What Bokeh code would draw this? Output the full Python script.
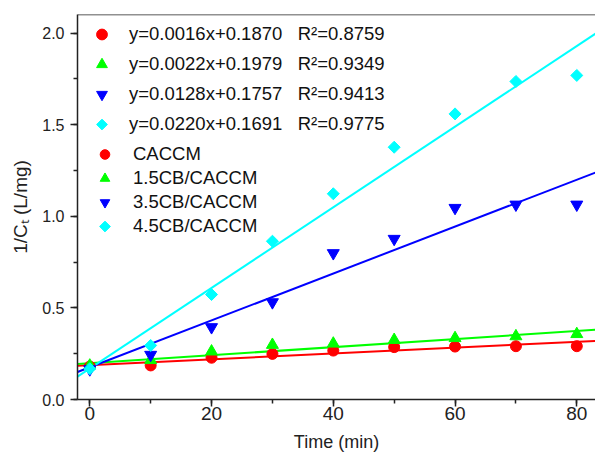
import numpy as np
from bokeh.plotting import figure
from bokeh.models import (Range1d, Legend, LegendItem, Span, SingleIntervalTicker,
                          PrintfTickFormatter)
from bokeh.embed import file_html
from bokeh.resources import INLINE

# ---- data ----
time_min = [0, 10, 20, 30, 40, 50, 60, 70, 80]
series_names = ["CACCM", "1.5CB/CACCM", "3.5CB/CACCM", "4.5CB/CACCM"]
caccm = [0.180, 0.186, 0.228, 0.249, 0.267, 0.286, 0.289, 0.291, 0.291]
cb15 = [0.185, 0.215, 0.262, 0.298, 0.305, 0.325, 0.335, 0.345, 0.357]
cb35 = [0.165, 0.244, 0.395, 0.531, 0.799, 0.877, 1.046, 1.064, 1.064]
cb45 = [0.168, 0.295, 0.573, 0.864, 1.123, 1.377, 1.559, 1.736, 1.769]
slopes = [0.0016, 0.0022, 0.0128, 0.0220]
intercepts = [0.1870, 0.1979, 0.1757, 0.1691]
r_squared = [0.8759, 0.9349, 0.9413, 0.9775]
x_tick_interval = 20
y_tick_interval = 0.5

series_values = [caccm, cb15, cb35, cb45]
colors = ["#FF0000", "#00FF00", "#0000FF", "#00FFFF"]
markers = ["circle", "triangle", "inverted_triangle", "square"]
sizes = [11, 12, 12, 8.5]
angles = [0, 0, 0, np.pi / 4]

# ---- layout (pixels) ----
W, H = 595, 457
BL, BT, BB, BR = 77, 14, 58, 0
FW, FH = W - BL - BR, H - BT - BB
x_lo = -2.02
x_hi = x_lo + FW / 6.0875
y_lo = 0.0
y_hi = y_lo + FH / 183.2

FONT = "Liberation Sans"

p = figure(width=W, height=H, output_backend="svg", toolbar_location=None,
           x_range=Range1d(x_lo, x_hi), y_range=Range1d(y_lo, y_hi),
           min_border_left=BL, min_border_right=BR, min_border_top=BT,
           min_border_bottom=BB)
p.outline_line_color = None
p.grid.visible = False
p.background_fill_color = "white"
p.border_fill_color = "white"

# fit lines
for s, b, c in zip(slopes, intercepts, colors):
    xs = [x_lo, x_hi]
    ys = [s * xv + b for xv in xs]
    p.line(xs, ys, line_color=c, line_width=2)

# points
rends = []
for vals, c, m, sz, ang in zip(series_values, colors, markers, sizes, angles):
    r = p.scatter(time_min, vals, marker=m, size=sz, angle=ang,
                  fill_color=c, line_color=c, line_width=1)
    rends.append(r)

# invisible proxy for the diamond legend entries (legend can't rotate glyphs)
proxy = p.scatter([], [], marker="square", size=8, fill_alpha=0, line_alpha=0)
legend_rends = rends[:3] + [proxy]

# top border
p.add_layout(Span(location=y_hi, dimension="width", line_color="#222222",
                  line_width=1.5))

# axes
p.xaxis.ticker = SingleIntervalTicker(interval=x_tick_interval, num_minor_ticks=2)
p.yaxis.ticker = SingleIntervalTicker(interval=y_tick_interval, num_minor_ticks=2)
p.yaxis.formatter = PrintfTickFormatter(format="%.1f")
for ax in (p.xaxis[0], p.yaxis[0]):
    ax.axis_line_color = "#222222"
    ax.axis_line_width = 1.5
    ax.major_tick_line_color = "#222222"
    ax.minor_tick_line_color = "#222222"
    ax.major_tick_line_width = 1.5
    ax.minor_tick_line_width = 1.5
    ax.major_tick_in = 0
    ax.minor_tick_in = 0
    ax.major_label_text_font = FONT
    ax.axis_label_text_font = FONT
    ax.axis_label_text_font_style = "normal"
    ax.major_label_text_color = "#222222"
    ax.axis_label_text_color = "#222222"
    ax.axis_label_text_font_size = "18px"

p.xaxis.major_tick_out = 7
p.xaxis.minor_tick_out = 4
p.xaxis.major_label_text_font_size = "19px"
p.xaxis.major_label_standoff = 0
p.xaxis.axis_label = "Time (min)"
p.xaxis.axis_label_standoff = 9

p.yaxis.major_tick_out = 7
p.yaxis.minor_tick_out = 4
p.yaxis.major_label_text_font_size = "16px"
p.yaxis.major_label_standoff = 6
p.yaxis.axis_label = "1/C\u209c (L/mg)"
p.yaxis.axis_label_text_font_size = "19px"
p.yaxis.axis_label_standoff = 8

# legends
eq_items = [LegendItem(label=f"y={s:.4f}x+{b:.4f}\u00a0\u00a0\u00a0R\u00b2={r2:.4f}",
                       renderers=[rd])
            for s, b, r2, rd in zip(slopes, intercepts, r_squared, legend_rends)]
name_items = [LegendItem(label=n, renderers=[rd])
              for n, rd in zip(series_names, legend_rends)]

GW = 27
legend_specs = [
    # items, loc_x, loc_y, row height, standoff
    (eq_items, 11, 260, 30, 14),
    (name_items, 14, 161, 24, 15),
]
diamond_x, diamond_y = [], []
for items, lx, ly, rh, st in legend_specs:
    lg = Legend(items=items, location=(lx, ly))
    lg.label_text_font = FONT
    lg.label_text_font_size = "18.5px"
    lg.label_text_color = "#111111"
    lg.glyph_width = GW
    lg.glyph_height = rh
    lg.label_height = rh
    lg.spacing = 0
    lg.padding = 0
    lg.margin = 0
    lg.label_standoff = st
    lg.border_line_color = None
    lg.background_fill_alpha = 0
    p.add_layout(lg)
    # position of the 4th (diamond) glyph, converted from legend layout to data units
    n = len(items)
    top_px = FH - ly - n * rh
    cx_px = lx + GW / 2
    cy_px = top_px + (n - 0.5) * rh
    diamond_x.append(x_lo + cx_px * (x_hi - x_lo) / FW)
    diamond_y.append(y_hi - cy_px * (y_hi - y_lo) / FH)

p.scatter(diamond_x, diamond_y, marker="square", size=7.6, angle=np.pi / 4,
          fill_color=colors[3], line_color=colors[3], line_width=1)

open("out.html", "w").write(file_html(p, INLINE))
